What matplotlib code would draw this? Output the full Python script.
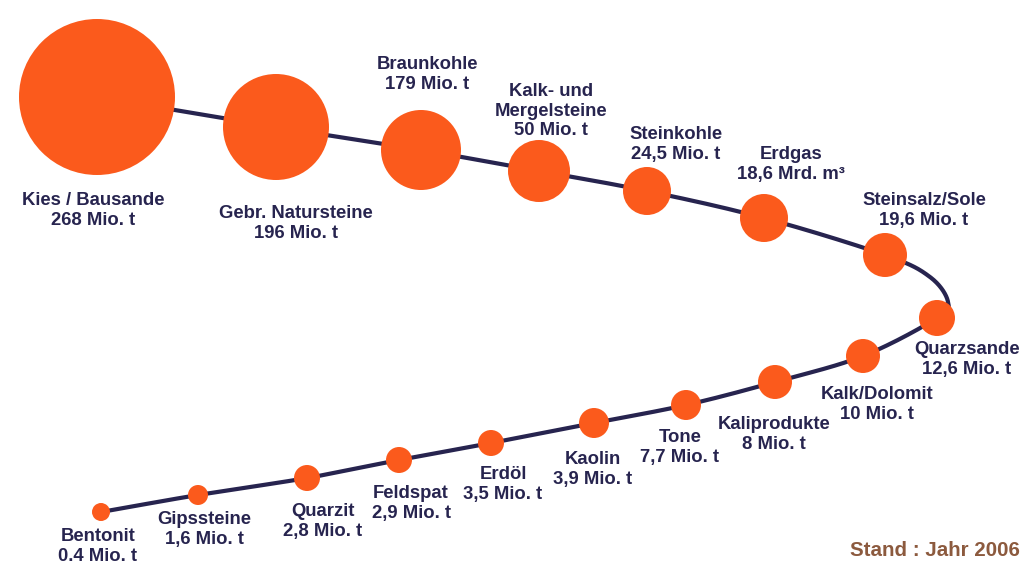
import numpy as np
import matplotlib.pyplot as plt
from matplotlib.patches import Circle

# Rohstoffe und Fördermengen
names = ["Kies / Bausande", "Gebr. Natursteine", "Braunkohle", "Kalk- und\nMergelsteine",
         "Steinkohle", "Erdgas", "Steinsalz/Sole", "Quarzsande", "Kalk/Dolomit",
         "Kaliprodukte", "Tone", "Kaolin", "Erdöl", "Feldspat", "Quarzit",
         "Gipssteine", "Bentonit"]
amounts = ["268 Mio. t", "196 Mio. t", "179 Mio. t", "50 Mio. t", "24,5 Mio. t",
           "18,6 Mrd. m³", "19,6 Mio. t", "12,6 Mio. t", "10 Mio. t", "8 Mio. t",
           "7,7 Mio. t", "3,9 Mio. t", "3,5 Mio. t", "2,9 Mio. t", "2,8 Mio. t",
           "1,6 Mio. t", "0.4 Mio. t"]

# layout: bubble centres along the path (pixels), radii, label anchors
cx = [97, 276, 421, 539, 647, 764, 885, 937, 863, 775, 686, 594, 491, 399, 307, 198, 101]
cy = [97, 127, 150, 171, 191, 218, 255, 318, 356, 382, 405, 423, 443, 460, 478, 495, 512]
radius = [78, 53, 40, 31, 24, 24, 22, 18, 17, 17, 15, 15, 13, 13, 13, 10, 9]
lx = [93, 296, 427, 551, 676, 791, 924, 967, 877, 774, 680, 593, 503, 411, 323, 204, 98]
ly = [192, 205, 56, 83, 126, 146, 192, 341, 386, 416, 429, 451, 466, 485, 503, 511, 528]

# extra bend points for the turn between Steinsalz/Sole and Quarzsande
bend_after = 6
bend_x = [930, 948]
bend_y = [277, 302]

orange = "#fb5a1c"
navy = "#27244f"

def catmull_rom(xs, ys, n=40):
    p = np.column_stack([xs, ys]).astype(float)
    p = np.vstack([2 * p[0] - p[1], p, 2 * p[-1] - p[-2]])
    out = []
    for i in range(1, len(p) - 2):
        p0, p1, p2, p3 = p[i - 1], p[i], p[i + 1], p[i + 2]
        t = np.linspace(0, 1, n)[:, None]
        seg = 0.5 * ((2 * p1) + (-p0 + p2) * t + (2 * p0 - 5 * p1 + 4 * p2 - p3) * t ** 2
                     + (-p0 + 3 * p1 - 3 * p2 + p3) * t ** 3)
        out.append(seg)
    return np.vstack(out)

fig = plt.figure(figsize=(10.24, 5.64), dpi=100)
ax = fig.add_axes([0, 0, 1, 1])
ax.set_xlim(0, 1024)
ax.set_ylim(564, 0)
ax.set_aspect("equal")
ax.axis("off")

px = cx[:bend_after + 1] + bend_x + cx[bend_after + 1:]
py = cy[:bend_after + 1] + bend_y + cy[bend_after + 1:]
path = catmull_rom(px, py)
ax.plot(path[:, 0], path[:, 1], color=navy, lw=3.0, solid_capstyle="round", zorder=1)

for x, y, r in zip(cx, cy, radius):
    ax.add_patch(Circle((x, y), r, facecolor=orange, edgecolor="none", zorder=2))

for name, amt, x, y in zip(names, amounts, lx, ly):
    ax.text(x, y, name + "\n" + amt, ha="center", va="top", fontsize=13.3,
            fontweight="bold", color=navy, family="Liberation Sans", linespacing=1.2)

ax.text(1020, 551, "Stand : Jahr 2006", ha="right", va="center", fontsize=14.8,
        fontweight="bold", color="#8c5a3e", family="Liberation Sans")

fig.savefig("out.png", dpi=100)
